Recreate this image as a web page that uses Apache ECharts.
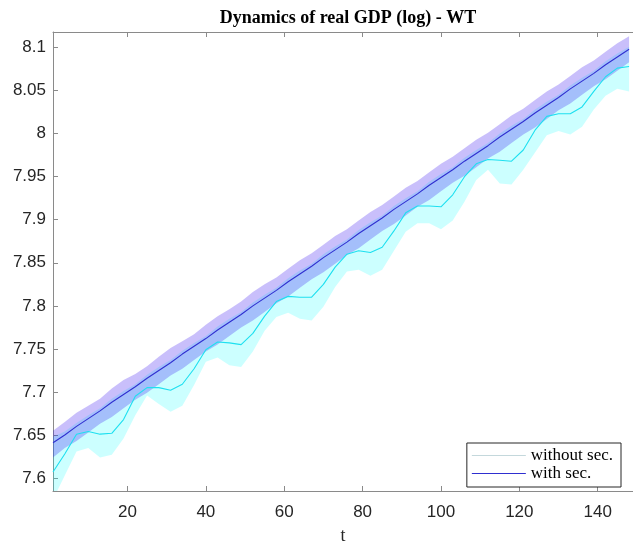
<!DOCTYPE html>
<html><head><meta charset="utf-8">
<script src="https://cdn.jsdelivr.net/npm/echarts@6/dist/echarts.min.js"></script>
<style>html,body{margin:0;padding:0;background:#fff}#c{width:633px;height:550px}</style>
</head><body><div id="c"></div>
<script>
// time index
const t = [1,4,7,10,13,16,19,22,25,28,31,34,37,40,43,46,49,52,55,58,61,64,67,70,73,76,79,82,85,88,91,94,97,100,103,106,109,112,115,118,121,124,127,130,133,136,139,142,145,148];
// "with sec." mean and band
const withSec = [7.641,7.650,7.660,7.669,7.678,7.688,7.697,7.706,7.716,7.725,7.734,7.744,7.753,7.762,7.772,7.781,7.790,7.800,7.809,7.818,7.828,7.837,7.846,7.856,7.865,7.874,7.884,7.893,7.902,7.912,7.921,7.930,7.940,7.949,7.958,7.968,7.977,7.986,7.996,8.005,8.014,8.024,8.033,8.042,8.052,8.061,8.070,8.080,8.089,8.098];
const withUp = [7.655,7.665,7.676,7.684,7.692,7.704,7.714,7.721,7.730,7.741,7.751,7.759,7.767,7.778,7.788,7.796,7.805,7.816,7.825,7.833,7.843,7.853,7.861,7.871,7.881,7.889,7.899,7.909,7.917,7.927,7.937,7.945,7.955,7.965,7.973,7.983,7.993,8.001,8.011,8.021,8.029,8.039,8.049,8.057,8.067,8.077,8.085,8.095,8.105,8.113];
const withLo = [7.624,7.635,7.643,7.653,7.663,7.671,7.681,7.691,7.699,7.709,7.719,7.727,7.737,7.747,7.755,7.765,7.775,7.783,7.793,7.803,7.811,7.821,7.831,7.839,7.849,7.859,7.867,7.877,7.887,7.895,7.905,7.915,7.923,7.933,7.943,7.951,7.961,7.971,7.979,7.989,7.999,8.007,8.017,8.027,8.035,8.045,8.055,8.063,8.073,8.083];
// "without sec." mean and band
const withoutSec = [7.607,7.628,7.651,7.654,7.651,7.652,7.668,7.695,7.705,7.705,7.702,7.709,7.727,7.749,7.758,7.757,7.755,7.768,7.788,7.805,7.811,7.810,7.810,7.825,7.845,7.860,7.864,7.862,7.868,7.887,7.908,7.916,7.916,7.915,7.929,7.950,7.965,7.970,7.969,7.968,7.981,8.004,8.020,8.023,8.023,8.031,8.049,8.066,8.076,8.078];
const withoutUp = [7.648,7.654,7.664,7.673,7.681,7.692,7.701,7.709,7.720,7.729,7.737,7.748,7.757,7.765,7.776,7.785,7.793,7.804,7.813,7.821,7.832,7.841,7.849,7.860,7.869,7.877,7.888,7.897,7.905,7.916,7.925,7.933,7.944,7.953,7.961,7.972,7.981,7.989,8.000,8.009,8.017,8.028,8.037,8.045,8.056,8.065,8.073,8.084,8.093,8.101];
const withoutLo = [7.575,7.603,7.631,7.635,7.624,7.627,7.646,7.673,7.696,7.686,7.677,7.684,7.708,7.735,7.740,7.731,7.729,7.747,7.771,7.787,7.792,7.785,7.783,7.799,7.822,7.840,7.842,7.835,7.842,7.864,7.886,7.896,7.896,7.889,7.899,7.921,7.946,7.958,7.942,7.941,7.958,7.978,7.998,8.003,7.999,8.008,8.028,8.044,8.052,8.049];
// ticks
const xTicks = [20,40,60,80,100,120,140];
const yTicks = [7.6,7.65,7.7,7.75,7.8,7.85,7.9,7.95,8,8.05,8.1];

const pairs = a => t.map((x,i)=>[x,a[i]]);

const axisCol = '#8a8a8a';
const labCol = '#262626';
const sans = 'Liberation Sans, Arial, sans-serif';
const serif = 'Liberation Serif, Times New Roman, serif';

function bandSeries(name, up, lo, fill, z){
  return {
    name, type:'custom', clip:true, silent:true, z,
    data:[[t[0], up[0]]],
    encode:{x:0, y:1},
    renderItem:(params, api) => {
      const pts = [];
      for (let i=0;i<t.length;i++) pts.push(api.coord([t[i], up[i]]));
      for (let i=t.length-1;i>=0;i--) pts.push(api.coord([t[i], lo[i]]));
      return {type:'polygon', shape:{points:pts}, style:{fill:fill, stroke:null}};
    }
  };
}

const chart = echarts.init(document.getElementById('c'));
chart.setOption({
  animation:false,
  backgroundColor:'#fff',
  title:{text:'Dynamics of real GDP (log) - WT', left:343, textAlign:'center', top:4,
    textStyle:{fontFamily:serif, fontWeight:'bold', fontSize:18, color:'#000'}},
  grid:{left:53, right:-2, top:32, bottom:54},
  legend:{
    data:[{name:'without sec.', icon:'rect', itemStyle:{color:'#c4d8dc'}},
          {name:'with sec.', icon:'rect', itemStyle:{color:'#2f2fd0'}}],
    orient:'vertical', right:12, bottom:63, itemWidth:54, itemHeight:1.2, itemGap:1,
    padding:[4,8,5,5], borderColor:'#262626', borderWidth:1, backgroundColor:'#fff',
    textStyle:{fontFamily:serif, fontSize:17, color:'#000', lineHeight:15}
  },
  xAxis:[{
    type:'value', min:1, max:149, position:'bottom',
    name:'t', nameLocation:'middle', nameGap:36,
    nameTextStyle:{fontFamily:serif, fontSize:18, color:labCol},
    axisLine:{show:true, lineStyle:{color:axisCol, width:1}},
    axisTick:{show:true, inside:true, length:5, customValues:xTicks, lineStyle:{color:axisCol}},
    axisLabel:{customValues:xTicks, margin:13, fontFamily:sans, fontSize:17, color:labCol},
    splitLine:{show:false}
  },{
    type:'value', min:1, max:149, position:'top',
    axisLine:{show:true, lineStyle:{color:axisCol, width:1}},
    axisTick:{show:true, inside:true, length:5, customValues:xTicks, lineStyle:{color:axisCol}},
    axisLabel:{show:false}, splitLine:{show:false}
  }],
  yAxis:[{
    type:'value', min:7.585, max:8.118, position:'left',
    axisLine:{show:true, lineStyle:{color:axisCol, width:1}},
    axisTick:{show:true, inside:true, length:5, customValues:yTicks, lineStyle:{color:axisCol}},
    axisLabel:{customValues:yTicks, margin:7, fontFamily:sans, fontSize:17, color:labCol},
    splitLine:{show:false}
  }],
  series:[
    bandSeries('cyanBand', withoutUp, withoutLo, 'rgba(0,255,255,0.2)', 1),
    bandSeries('purpleBand', withUp, withLo, 'rgba(54,17,239,0.27)', 2),
    {name:'without sec.', type:'line', data:pairs(withoutSec), symbol:'none',
     lineStyle:{color:'#1ee0f0', width:1.1}, itemStyle:{color:'#1ee0f0'}, z:3},
    {name:'with sec.', type:'line', data:pairs(withSec), symbol:'none',
     lineStyle:{color:'#2f2fd0', width:1.1}, itemStyle:{color:'#2f2fd0'}, z:4}
  ]
});
</script>
</body></html>
